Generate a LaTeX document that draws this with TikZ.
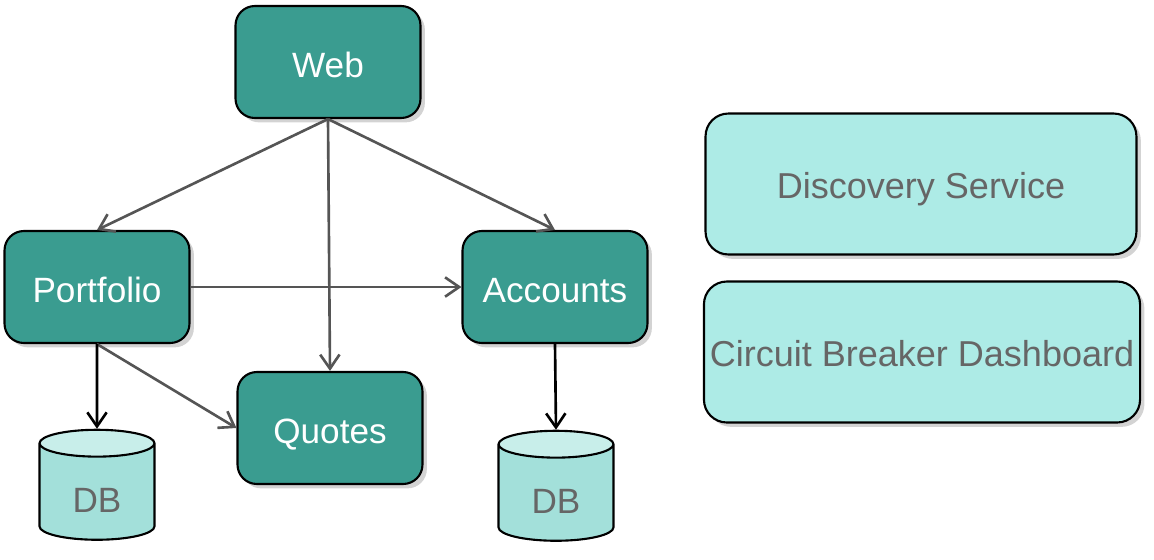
\documentclass[tikz,border=0pt]{standalone}
\usepackage{fontspec}
\setmainfont{Liberation Sans}
\usetikzlibrary{positioning,arrows.meta,shapes.geometric,shadows}
\definecolor{svcteal}{HTML}{3A9C90}
\definecolor{infracyan}{HTML}{ADEBE6}
\definecolor{dbcyan}{HTML}{A3E0DA}
\definecolor{dbtop}{HTML}{C8EEEA}
\definecolor{labelgray}{HTML}{666666}
\definecolor{linkgray}{HTML}{555555}

\begin{document}
\begin{tikzpicture}[
    x=0.02cm, y=-0.02cm,
    >={Straight Barb[length=8pt, width=11pt, line width=1.5pt]},
    font=\fontsize{20}{24}\selectfont,
    service/.style={draw=black, line width=1.2pt, fill=svcteal, text=white,
      rounded corners=11pt, minimum width=3.7cm, minimum height=2.24cm,
      text height=18pt, text depth=0pt,
      drop shadow={shadow xshift=2.5pt, shadow yshift=-2.5pt, opacity=0.35}},
    infra/.style={draw=black, line width=1.2pt, fill=infracyan, text=labelgray,
      rounded corners=13pt, minimum width=8.62cm, minimum height=2.82cm,
      font=\fontsize{20.5}{24}\selectfont, text height=17pt, text depth=0pt,
      drop shadow={shadow xshift=2.5pt, shadow yshift=-2.5pt, opacity=0.35}},
    store/.style={cylinder, shape border rotate=90, aspect=0.55, draw=black,
      line width=1.2pt, cylinder uses custom fill, cylinder body fill=dbcyan,
      cylinder end fill=dbtop, text=labelgray, inner sep=0pt,
      text height=23pt, text depth=0pt,
      minimum width=2.3cm, minimum height=2.2cm},
    link/.style={->, draw=linkgray, line width=1.5pt},
    dblink/.style={->, draw=black, line width=1.5pt},
  ]
  \useasboundingbox (0,0) rectangle (1154,559);

  % ============================================================
  % Services
  % ============================================================
  \node[service] (web)       at (328, 62)  {Web};
  \node[service] (portfolio) at (97, 287)  {Portfolio};
  \node[service] (accounts)  at (555, 287) {Accounts};
  \node[service] (quotes)    at (330, 428) {Quotes};

  % Data stores
  \node[store] (dbport) at (97, 492)  {DB};
  \node[store] (dbacct) at (556, 493) {DB};

  % ============================================================
  % Infrastructure
  % ============================================================
  \node[infra] (discovery) at (921, 184) {Discovery Service};
  \node[infra] (breaker)   at (922, 352) {Circuit Breaker Dashboard};

  % ============================================================
  % Connectors
  % ============================================================
  \draw[link] (web.south) -- (portfolio.north);
  \draw[link] (web.south) -- (quotes.north);
  \draw[link] (web.south) -- (accounts.north);
  \draw[link] (portfolio.east) -- (accounts.west);
  \draw[link] (portfolio.south) -- (quotes.west);

  \draw[dblink] (portfolio.south) -- (dbport.north);
  \draw[dblink] (accounts.south) -- (dbacct.north);

\end{tikzpicture}
\end{document}
